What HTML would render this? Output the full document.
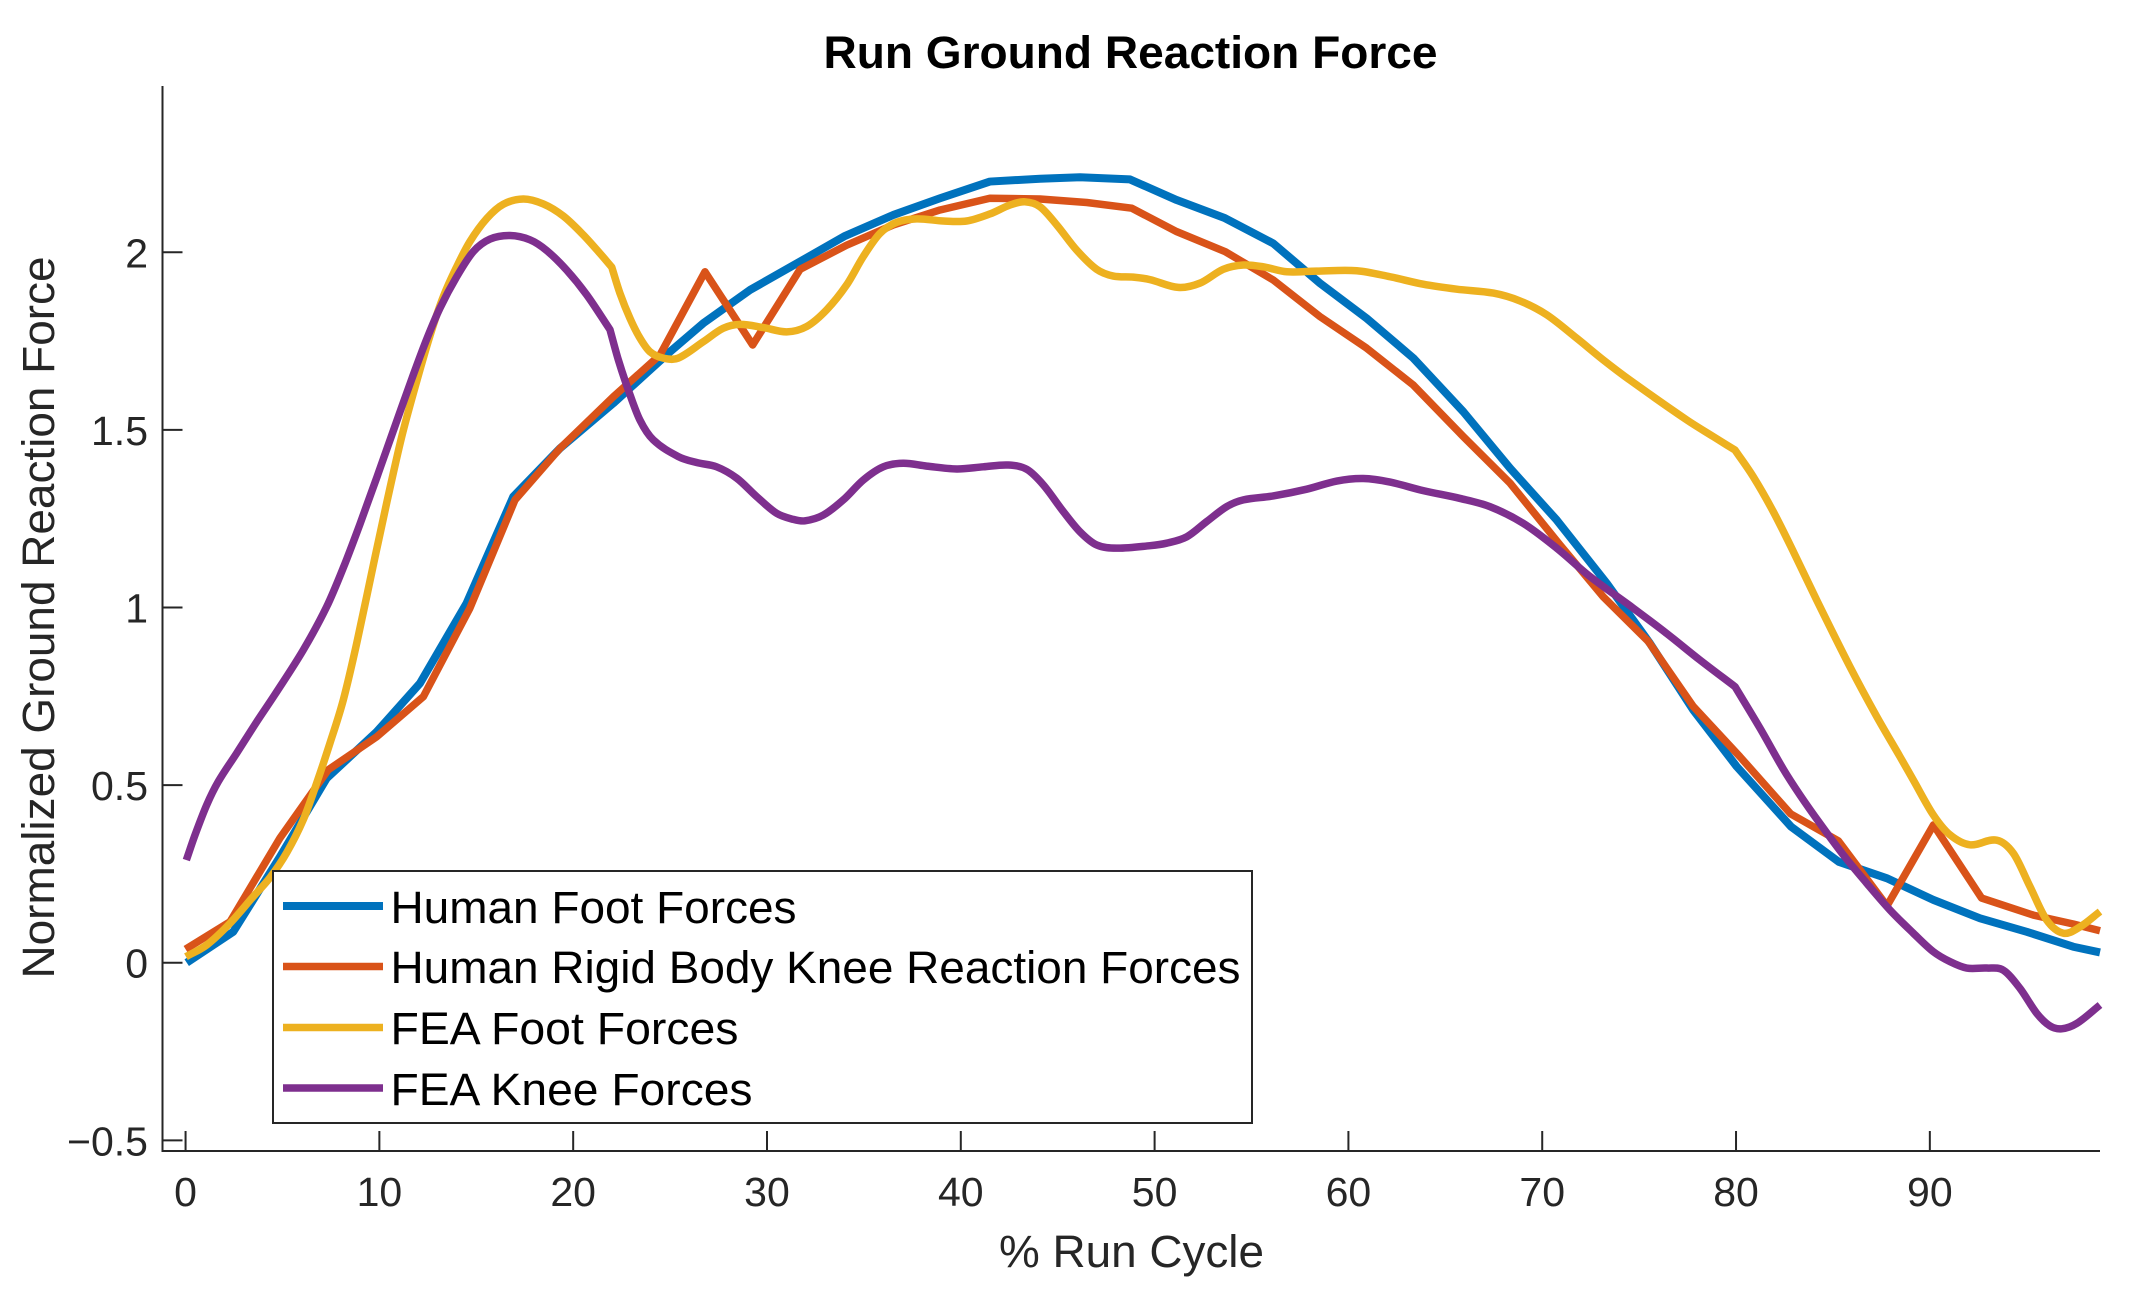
<!DOCTYPE html>
<html lang="en">
<head>
<meta charset="utf-8">
<title>Run Ground Reaction Force</title>
<style>
html,body{margin:0;padding:0;background:#fff;}
svg{display:block;font-family:"Liberation Sans",Arial,sans-serif;}
</style>
</head>
<body>
<svg id="chart" xmlns="http://www.w3.org/2000/svg" width="2133" height="1294" viewBox="0 0 2133 1294">
  <rect x="0" y="0" width="2133" height="1294" fill="#ffffff"/>
  <text x="1130.5" y="68" text-anchor="middle" font-size="45" font-weight="700" fill="#000000" textLength="614" lengthAdjust="spacingAndGlyphs">Run Ground Reaction Force</text>
  <text transform="translate(54 617.5) rotate(-90)" text-anchor="middle" font-size="45.5" fill="#262626" textLength="722" lengthAdjust="spacingAndGlyphs">Normalized Ground Reaction Force</text>
  <text x="1131.5" y="1267" text-anchor="middle" font-size="45.5" fill="#262626" textLength="265" lengthAdjust="spacingAndGlyphs">% Run Cycle</text>
  <g id="ticks"></g>
  <line x1="162.5" y1="86" x2="162.5" y2="1152" stroke="#262626" stroke-width="2"/>
  <line x1="161.5" y1="1151" x2="2100" y2="1151" stroke="#262626" stroke-width="2"/>
  <g id="series" fill="none" stroke-linejoin="round"></g>
  <g>
    <rect x="273" y="871" width="979" height="252" fill="#ffffff" stroke="#262626" stroke-width="2"/>
    <line x1="283" y1="906" x2="383" y2="906" stroke="#0072BD" stroke-width="8"/>
    <text x="390.5" y="923" font-size="45" fill="#000000" textLength="406" lengthAdjust="spacingAndGlyphs">Human Foot Forces</text>
    <line x1="283" y1="966.5" x2="383" y2="966.5" stroke="#D95319" stroke-width="7.5"/>
    <text x="390.5" y="983" font-size="45" fill="#000000" textLength="850" lengthAdjust="spacingAndGlyphs">Human Rigid Body Knee Reaction Forces</text>
    <line x1="283" y1="1027.5" x2="383" y2="1027.5" stroke="#EDB120" stroke-width="7.5"/>
    <text x="390.5" y="1044" font-size="45" fill="#000000" textLength="348" lengthAdjust="spacingAndGlyphs">FEA Foot Forces</text>
    <line x1="283" y1="1088" x2="383" y2="1088" stroke="#7E2F8E" stroke-width="7.5"/>
    <text x="390.5" y="1105" font-size="45" fill="#000000" textLength="362" lengthAdjust="spacingAndGlyphs">FEA Knee Forces</text>
  </g>
</svg>
<script>
var xTickValues = [0,10,20,30,40,50,60,70,80,90];
var yTickValues = [-0.5,0,0.5,1,1.5,2];
var yTickLabels = ["\u22120.5","0","0.5","1","1.5","2"];

var humanFootX = [0.06,2.46,4.87,7.28,9.86,12.1,14.5,16.91,19.32,22.07,25.0,26.71,29.13,31.71,34.03,36.52,38.93,41.5,44.09,46.15,48.73,51.14,53.63,56.12,58.53,60.94,63.35,65.93,68.34,70.75,73.33,75.56,77.8,80.04,82.84,85.3,87.77,90.18,92.59,95.0,97.4,98.78];
var humanFootY = [0,0.087,0.298,0.519,0.65,0.787,1.012,1.312,1.448,1.575,1.72,1.8,1.894,1.974,2.046,2.105,2.152,2.199,2.207,2.211,2.205,2.147,2.096,2.025,1.913,1.814,1.702,1.551,1.392,1.246,1.068,0.899,0.711,0.552,0.383,0.284,0.238,0.177,0.125,0.087,0.045,0.029];

var humanKneeX = [0,2.29,4.87,7.36,9.86,12.27,14.67,17.0,19.32,22.07,24.48,26.8,29.26,31.71,34.11,36.52,38.93,41.5,44.09,46.5,48.82,51.14,53.63,56.12,58.53,60.94,63.35,65.93,68.34,70.92,73.15,75.48,77.8,80.2,82.82,85.28,87.79,90.19,92.67,95.34,97.4,98.78];
var humanKneeY = [0.038,0.115,0.351,0.543,0.636,0.749,0.998,1.303,1.448,1.593,1.711,1.945,1.739,1.952,2.02,2.077,2.119,2.152,2.15,2.14,2.124,2.058,2.002,1.922,1.819,1.73,1.626,1.481,1.35,1.176,1.03,0.904,0.721,0.58,0.419,0.343,0.16,0.388,0.182,0.134,0.109,0.09];

var feaFootX = [0.02,1.09,2.29,3.49,4.36,5.22,6.07,6.76,7.45,8.14,8.83,9.69,10.38,11.15,11.84,12.61,13.3,13.99,14.67,15.54,16.39,17.43,18.46,19.49,20.52,21.38,21.99,22.41,22.93,23.45,23.96,24.65,25.42,26.71,27.74,28.61,29.81,31.02,32.05,33.08,34.11,34.97,35.83,36.69,37.72,39.1,40.3,41.51,42.54,43.31,44.09,44.95,45.98,47.01,47.87,48.9,49.76,51.22,52.34,53.54,54.58,55.61,56.82,58.36,60.43,62.15,63.86,65.59,67.48,68.85,70.23,71.78,73.15,74.53,77.46,78.83,79.95,80.89,81.92,82.96,84.16,85.88,87.26,88.46,89.15,90.18,91.04,92.07,93.45,94.31,95.17,96.03,96.89,97.75,98.78];
var feaFootY = [0.017,0.05,0.111,0.186,0.24,0.31,0.402,0.505,0.618,0.74,0.899,1.12,1.295,1.48,1.62,1.765,1.875,1.959,2.03,2.095,2.135,2.15,2.136,2.102,2.049,1.997,1.958,1.885,1.814,1.758,1.72,1.702,1.702,1.748,1.786,1.797,1.788,1.776,1.791,1.838,1.908,1.988,2.053,2.084,2.094,2.088,2.088,2.108,2.133,2.142,2.128,2.077,2.006,1.952,1.933,1.93,1.923,1.901,1.913,1.952,1.964,1.959,1.945,1.947,1.948,1.931,1.91,1.896,1.885,1.863,1.824,1.758,1.697,1.64,1.528,1.481,1.443,1.368,1.27,1.157,1.021,0.833,0.693,0.58,0.514,0.416,0.36,0.332,0.345,0.308,0.214,0.12,0.083,0.101,0.144];
var feaFootCorners = [21.99,79.95];

var feaKneeX = [0.04,0.49,1.09,1.69,2.64,3.67,4.61,6.07,7.28,8.14,9.0,9.86,11.06,11.75,12.44,13.13,13.99,14.85,15.71,16.74,17.77,18.63,19.66,20.7,21.9,22.33,22.84,23.44,24.13,25.42,26.37,27.4,28.44,29.47,30.5,31.36,31.96,32.9,33.94,34.97,36.0,37.03,38.24,39.79,41.16,42.45,43.4,44.26,45.29,46.15,47.01,48.04,49.76,50.62,51.66,52.69,53.72,54.58,56.12,57.85,59.4,60.77,62.15,63.86,65.76,67.3,69.02,70.75,72.47,74.7,76.42,78.14,79.95,81.24,82.44,83.3,84.33,85.54,86.74,87.95,89.15,90.18,91.04,91.9,92.94,93.79,94.65,95.51,96.2,96.8,97.58,98.78];
var feaKneeY = [0.289,0.36,0.444,0.51,0.59,0.678,0.755,0.88,1.002,1.112,1.235,1.365,1.55,1.655,1.755,1.843,1.931,2.002,2.037,2.047,2.035,2.005,1.95,1.88,1.782,1.697,1.613,1.528,1.472,1.425,1.408,1.396,1.364,1.312,1.265,1.248,1.244,1.26,1.303,1.359,1.396,1.406,1.398,1.39,1.396,1.401,1.389,1.345,1.27,1.213,1.176,1.167,1.174,1.181,1.199,1.242,1.284,1.303,1.314,1.333,1.356,1.363,1.353,1.329,1.307,1.284,1.237,1.167,1.087,0.998,0.927,0.852,0.777,0.66,0.545,0.472,0.392,0.303,0.224,0.148,0.083,0.031,0.003,-0.015,-0.015,-0.021,-0.072,-0.142,-0.178,-0.186,-0.171,-0.119];
var feaKneeCorners = [21.9,79.95];

var xDomainMin = -1.19, xDomainMax = 98.78;
var yDomainMin = -0.53, yDomainMax = 2.468;
var plotLeft = 162.5, plotRight = 2100, plotTop = 86, plotBottom = 1151;

function xScale(v){ return plotLeft + (v - xDomainMin) * (plotRight - plotLeft) / (xDomainMax - xDomainMin); }
function yScale(v){ return plotBottom - (v - yDomainMin) * (plotBottom - plotTop) / (yDomainMax - yDomainMin); }

var svgNS = "http://www.w3.org/2000/svg";
var ticksGroup = document.getElementById("ticks");
var seriesGroup = document.getElementById("series");

xTickValues.forEach(function(v){
  var px = xScale(v);
  var tick = document.createElementNS(svgNS, "line");
  
  
  tick.setAttribute("x1", px);
  tick.setAttribute("x2", px);
  tick.setAttribute("y1", plotBottom);
  tick.setAttribute("y2", plotBottom - 20);
  tick.setAttribute("stroke", "#262626");
  tick.setAttribute("stroke-width", "2");
  ticksGroup.appendChild(tick);
  var label = document.createElementNS(svgNS, "text");
  
  
  label.setAttribute("x", px);
  label.setAttribute("y", 1206);
  label.setAttribute("text-anchor", "middle");
  label.setAttribute("font-size", "41");
  label.setAttribute("fill", "#262626");
  label.textContent = String(v);
  ticksGroup.appendChild(label);
});

yTickValues.forEach(function(v, i){
  var py = yScale(v);
  var tick = document.createElementNS(svgNS, "line");
  
  
  tick.setAttribute("x1", plotLeft);
  tick.setAttribute("x2", plotLeft + 20);
  tick.setAttribute("y1", py);
  tick.setAttribute("y2", py);
  tick.setAttribute("stroke", "#262626");
  tick.setAttribute("stroke-width", "2");
  ticksGroup.appendChild(tick);
  var label = document.createElementNS(svgNS, "text");
  
  
  label.setAttribute("x", 148);
  label.setAttribute("y", py + 15);
  label.setAttribute("text-anchor", "end");
  label.setAttribute("font-size", "41");
  label.setAttribute("fill", "#262626");
  label.textContent = yTickLabels[i];
  ticksGroup.appendChild(label);
});

function straightPath(xs, ys){
  var d = "";
  for (var i = 0; i < xs.length; i++) {
    d += (i ? "L" : "M") + xScale(xs[i]).toFixed(2) + " " + yScale(ys[i]).toFixed(2);
  }
  return d;
}

function smoothPath(xs, ys, corners){
  var px = xs.map(xScale);
  var py = ys.map(yScale);
  var n = px.length;
  function chord(i){ return (py[i + 1] - py[i]) / (px[i + 1] - px[i]); }
  function central(i){
    if (i === 0) return chord(0);
    if (i === n - 1) return chord(n - 2);
    return (py[i + 1] - py[i - 1]) / (px[i + 1] - px[i - 1]);
  }
  function isCorner(i){ return corners.indexOf(xs[i]) !== -1; }
  var d = "M" + px[0].toFixed(2) + " " + py[0].toFixed(2);
  for (var i = 0; i < n - 1; i++) {
    var dx = (px[i + 1] - px[i]) / 3;
    var m0 = isCorner(i) ? chord(i) : central(i);
    var m1 = isCorner(i + 1) ? chord(i) : central(i + 1);
    d += "C" + (px[i] + dx).toFixed(2) + " " + (py[i] + m0 * dx).toFixed(2) + " " +
         (px[i + 1] - dx).toFixed(2) + " " + (py[i + 1] - m1 * dx).toFixed(2) + " " +
         px[i + 1].toFixed(2) + " " + py[i + 1].toFixed(2);
  }
  return d;
}

var blueLine = document.createElementNS(svgNS, "path");


blueLine.setAttribute("d", straightPath(humanFootX, humanFootY));
blueLine.setAttribute("stroke", "#0072BD");
blueLine.setAttribute("stroke-width", "8");
seriesGroup.appendChild(blueLine);

var orangeLine = document.createElementNS(svgNS, "path");


orangeLine.setAttribute("d", straightPath(humanKneeX, humanKneeY));
orangeLine.setAttribute("stroke", "#D95319");
orangeLine.setAttribute("stroke-width", "7.5");
seriesGroup.appendChild(orangeLine);

var yellowLine = document.createElementNS(svgNS, "path");


yellowLine.setAttribute("d", smoothPath(feaFootX, feaFootY, feaFootCorners));
yellowLine.setAttribute("stroke", "#EDB120");
yellowLine.setAttribute("stroke-width", "7.5");
seriesGroup.appendChild(yellowLine);

var purpleLine = document.createElementNS(svgNS, "path");


purpleLine.setAttribute("d", smoothPath(feaKneeX, feaKneeY, feaKneeCorners));
purpleLine.setAttribute("stroke", "#7E2F8E");
purpleLine.setAttribute("stroke-width", "7.5");
seriesGroup.appendChild(purpleLine);
</script>
</body>
</html>
